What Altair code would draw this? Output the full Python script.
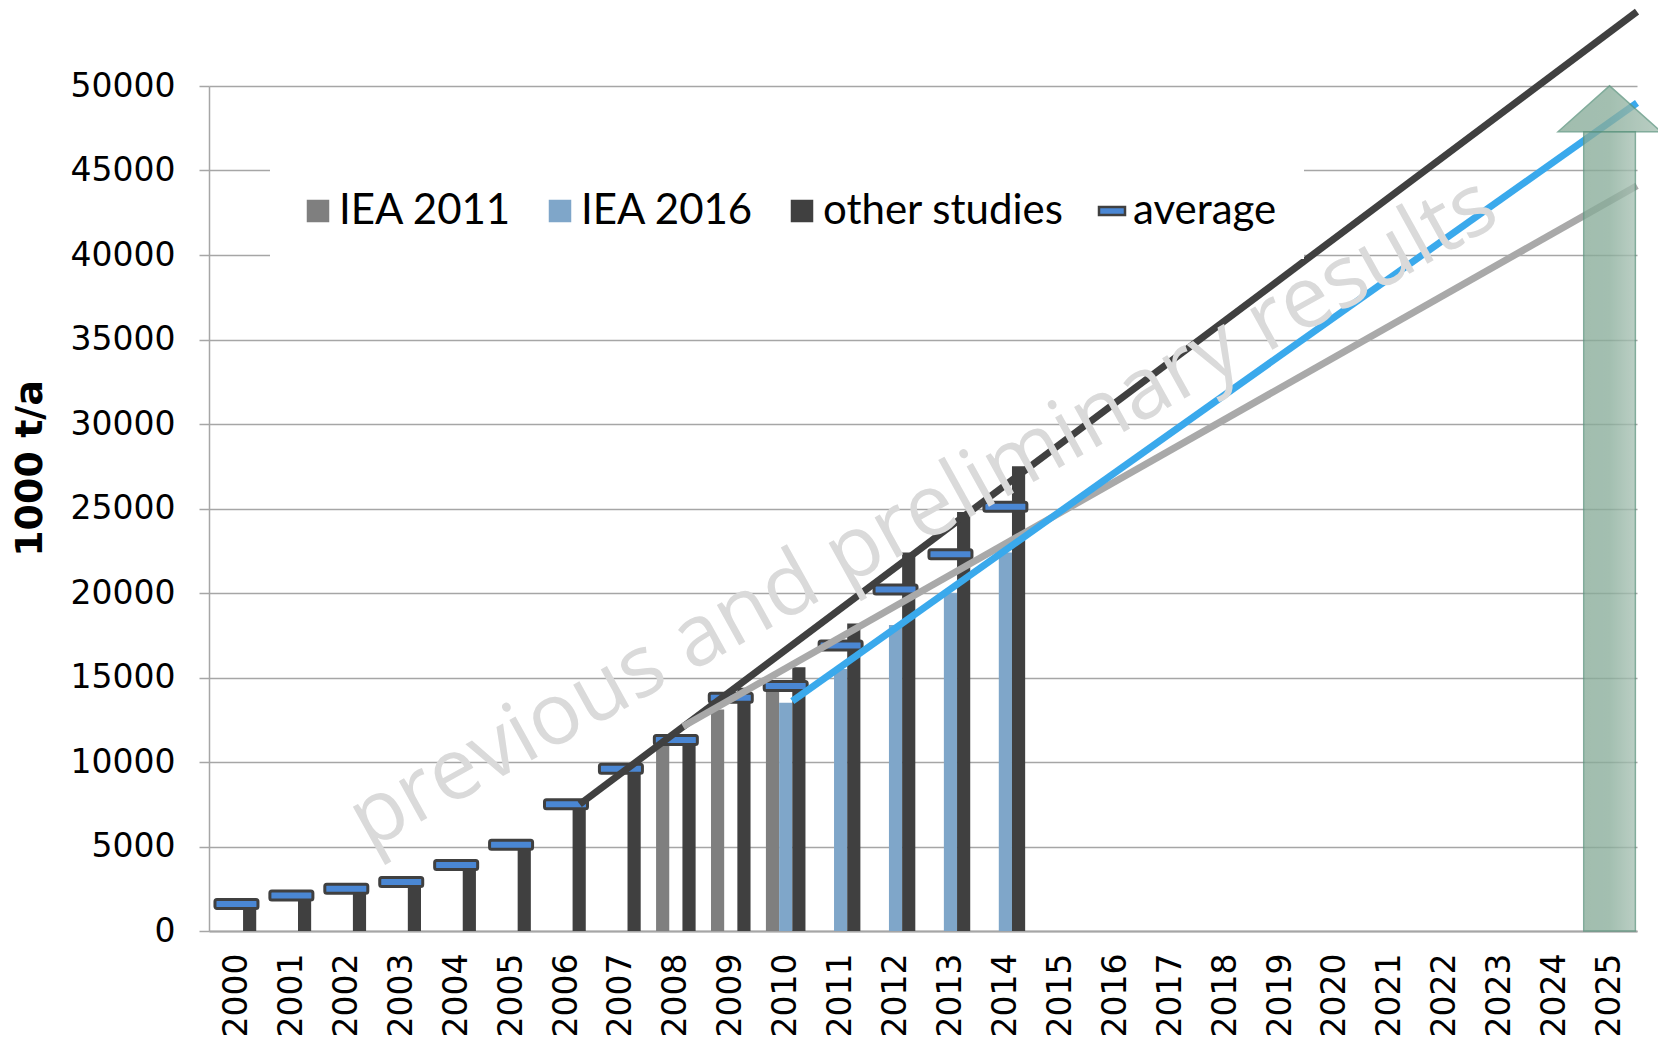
import altair as alt
import pandas as pd

# ---------------- data ----------------
years = list(range(2000, 2015))
other_studies = [1600, 2100, 2500, 2900, 3900, 5100, 7500, 9600, 11500, 14400, 15600, 18200, 22400, 24800, 27500]
average = [1600, 2100, 2500, 2900, 3900, 5100, 7500, 9600, 11300, 13800, 14500, 16900, 20200, 22300, 25100]
iea2011_years = [2008, 2009, 2010]
iea2011 = [11000, 13100, 14500]
iea2016_years = [2010, 2011, 2012, 2013, 2014]
iea2016 = [13500, 15500, 18100, 20000, 22400]

axis_years = list(range(2000, 2026))
y_ticks = list(range(0, 50001, 5000))

trend_other_years = [2006.25, 2025.5]
trend_other_values = [7500, 54400]
trend_iea2011_years = [2008.13, 2025.5]
trend_iea2011_values = [12100, 44100]
trend_iea2016_years = [2010.12, 2025.5]
trend_iea2016_values = [13600, 49000]

arrow_year = [2025]
arrow_tip = [50000]
arrow_head_base = [47300]

watermark_text = ["previous and preliminary results"]
watermark_year = [2012.5]
watermark_value = [24700]

series_names = ["IEA 2011", "IEA 2016", "other studies", "average"]
series_colors = ["#7f7f7f", "#7fa6c9", "#404040", "#4a87d4"]
series_strokes = ["#7f7f7f", "#7fa6c9", "#404040", "#404040"]

# ---------------- style constants ----------------
BAR_W = 0.24          # bar width in years
SLOT = {"IEA 2011": -1, "IEA 2016": 0, "other studies": 1}
SHAFT_HALF = 0.47
HEAD_W_PX = 103
DASH_PATH = "M-1.3,-0.4L1.3,-0.4L1.3,0.4L-1.3,0.4Z"
HEAD_PATH = "M-1,0.4465L0,-0.4465L1,0.4465Z"

# ---------------- frames ----------------
rows = []
for s, ys, vs in [("IEA 2011", iea2011_years, iea2011),
                  ("IEA 2016", iea2016_years, iea2016),
                  ("other studies", years, other_studies)]:
    for yr, v in zip(ys, vs):
        c = yr + SLOT[s] * BAR_W
        rows.append({"series": s, "year": yr, "x0": c - BAR_W / 2, "x1": c + BAR_W / 2,
                     "value": v, "base": 0})
bars_df = pd.DataFrame(rows)
avg_df = pd.DataFrame({"year": years, "value": average})

def trend_df(xs, vs):
    return pd.DataFrame({"year": xs, "value": vs})

arrow_df = pd.DataFrame({"year": arrow_year, "tip": arrow_tip, "headbase": arrow_head_base})
arrow_df["x0"] = arrow_df["year"] - SHAFT_HALF
arrow_df["x1"] = arrow_df["year"] + SHAFT_HALF
arrow_df["base"] = 0
arrow_df["headmid"] = (arrow_df["tip"] + arrow_df["headbase"]) / 2

wm_df = pd.DataFrame({"text": watermark_text, "year": watermark_year, "value": watermark_value})
legend_df = pd.DataFrame({"series": series_names})

# ---------------- scales / axes ----------------
xscale = alt.Scale(domain=[1999.5, 2025.5], nice=False, zero=False)
yscale = alt.Scale(domain=[0, 50000], nice=False)
GRID = "#a6a6a6"
xaxis = alt.Axis(values=axis_years, format="d", grid=False, labelAngle=270, labelAlign="right",
                 labelBaseline="middle", labelPadding=22, ticks=False, tickSize=0,
                 domainColor=GRID, domainWidth=2, labelFont="DejaVu Sans", labelFontSize=33,
                 labelColor="black", labelFlush=False, labelOverlap=False, title=None)
yaxis = alt.Axis(values=y_ticks, format="d", grid=True, gridColor=GRID, gridWidth=1.5,
                 domainColor=GRID, domainWidth=1.5, tickColor=GRID, tickSize=10, tickWidth=1.5,
                 labelFont="DejaVu Sans", labelFontSize=33, labelColor="black", labelPadding=24,
                 title="1000 t/a", titleFont="DejaVu Sans", titleFontSize=38, titleFontWeight="bold",
                 titleColor="black", titleX=-179, titleY=382, titleAngle=270, titleAlign="center",
                 titleBaseline="middle")

def X(f):
    return alt.X(f, type="quantitative", scale=xscale, axis=xaxis)

def Y(f):
    return alt.Y(f, type="quantitative", scale=yscale, axis=yaxis)

color_scale = alt.Scale(domain=series_names, range=series_colors)
shape_scale = alt.Scale(domain=series_names, range=["square", "square", "square", DASH_PATH])
stroke_scale = alt.Scale(domain=series_names, range=series_strokes)

leg = alt.Legend(orient="none", legendX=61, legendY=77, direction="horizontal", title=None,
                 fillColor="white", padding=27, symbolSize=400, symbolStrokeWidth=2.5,
                 symbolOpacity=1, labelFont="Lato", labelFontSize=42, labelColor="black",
                 labelLimit=400, labelOffset=0, columnPadding=27)

bars = alt.Chart(bars_df).mark_rect().encode(
    x=X("x0"), x2="x1", y=Y("value"), y2="base",
    color=alt.Color("series:N", scale=color_scale, legend=leg),
)

avg_ticks = alt.Chart(avg_df).mark_tick(
    orient="horizontal", size=43, thickness=9, fill="#4a87d4", stroke="#404040",
    strokeWidth=3, cornerRadius=2, opacity=1
).encode(x=X("year"), y=Y("value"))

def line(df, color):
    return alt.Chart(df).mark_line(color=color, strokeWidth=7, clip=False, strokeCap="butt").encode(
        x=X("year"), y=Y("value"))

l_other = line(trend_df(trend_other_years, trend_other_values), "#404040")
l_11 = line(trend_df(trend_iea2011_years, trend_iea2011_values), "#a9a9a9")
l_16 = line(trend_df(trend_iea2016_years, trend_iea2016_values), "#3aa9ec")

watermark = alt.Chart(wm_df).mark_text(
    font="Open Sans", fontSize=86, color="#dadada", angle=331, align="center",
    baseline="middle", clip=False
).encode(x=X("year"), y=Y("value"), text="text:N")

grad = alt.Gradient(gradient="linear", x1=0, x2=1, y1=0, y2=0,
                    stops=[alt.GradientStop(color="#87ab98", offset=0),
                           alt.GradientStop(color="#8aae9b", offset=0.5),
                           alt.GradientStop(color="#a8c1b4", offset=1)])

shaft = alt.Chart(arrow_df).mark_rect(fill=grad, opacity=0.78, stroke="#5f9680",
                                      strokeWidth=1.5, clip=False).encode(
    x=X("x0"), x2="x1", y=Y("headbase"), y2="base")

head = alt.Chart(arrow_df).mark_point(shape=HEAD_PATH, size=(HEAD_W_PX / 2 * 2) ** 2, filled=True,
                                      fill=grad, opacity=0.78, stroke="#5f9680", strokeWidth=1.5,
                                      clip=False).encode(
    x=X("year"), y=Y("headmid"))

legend_layer = alt.Chart(legend_df).mark_point(filled=True, opacity=0).encode(
    x=alt.value(0), y=alt.value(0),
    color=alt.Color("series:N", scale=color_scale, legend=leg),
    shape=alt.Shape("series:N", scale=shape_scale, legend=leg),
    stroke=alt.Stroke("series:N", scale=stroke_scale, legend=leg),
)

chart = alt.layer(bars, avg_ticks, l_other, l_11, l_16, watermark, shaft, head, legend_layer).properties(
    width=1428, height=845,
    padding={"left": 201, "top": 78, "right": 21, "bottom": 105},
    autosize=alt.AutoSizeParams(type="none"),
    background="white",
).configure_view(stroke=None)

chart.save("out.html", embed_options={"renderer": "svg", "actions": False})
